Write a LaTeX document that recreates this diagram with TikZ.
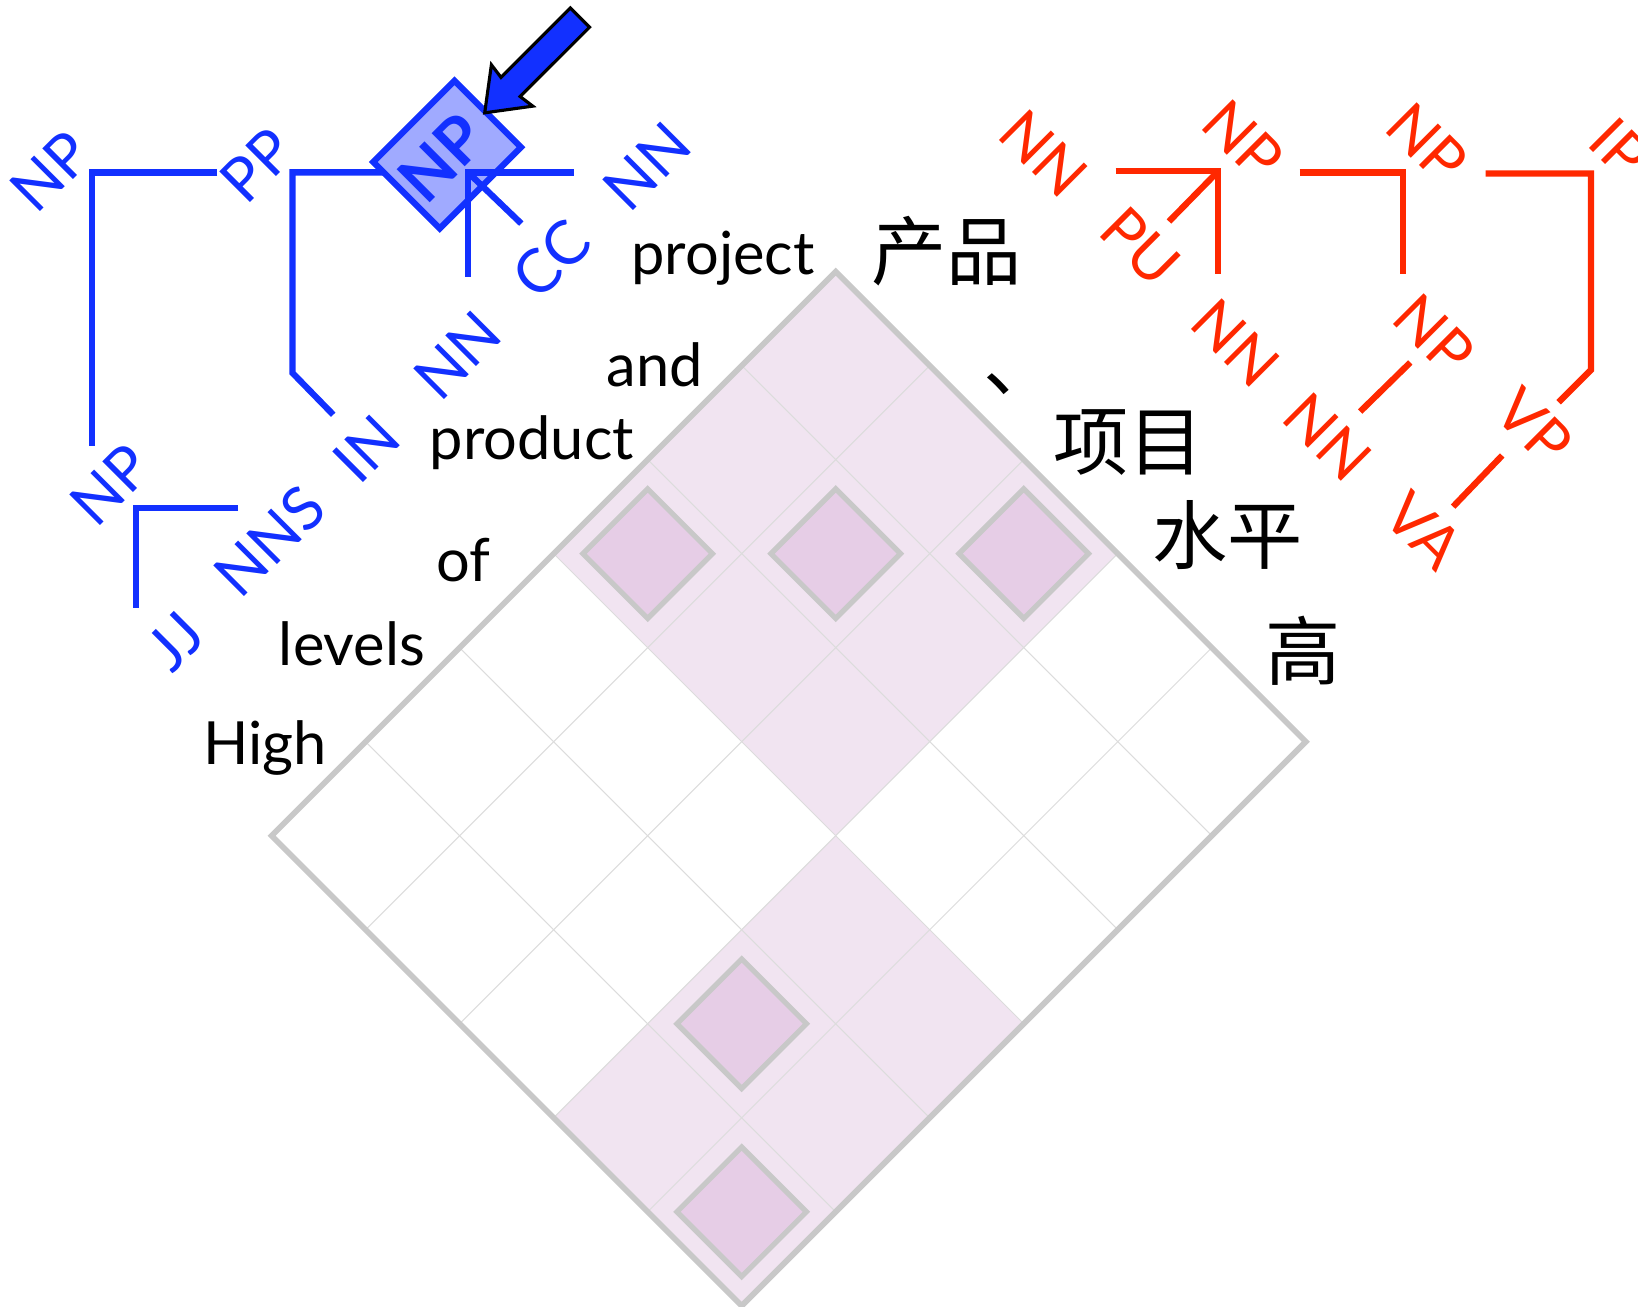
\documentclass[tikz,border=0pt]{standalone}
\usepackage{fontspec}
\setmainfont{Lato}
\newfontfamily\cjk{Noto Sans CJK SC}
\definecolor{tbl}{RGB}{18,48,255}
\definecolor{tred}{RGB}{255,40,0}
\definecolor{gbord}{RGB}{200,200,200}
\definecolor{ggrid}{RGB}{220,220,220}
\definecolor{pinkl}{RGB}{241,228,241}
\definecolor{pinkd}{RGB}{230,205,230}
\definecolor{boxfill}{RGB}{160,170,255}
\begin{document}
\begin{tikzpicture}[x=1pt,y=-1pt,
  blab/.style={text=tbl, rotate=45, inner sep=0pt, font=\fontsize{58}{62}\selectfont},
  rlab/.style={text=tred, rotate=-45, inner sep=0pt, font=\fontsize{58}{62}\selectfont},
  bline/.style={draw=tbl, line width=6pt, line join=miter},
  rline/.style={draw=tred, line width=6pt, line join=miter},
  word/.style={anchor=base east, inner sep=0pt, font=\fontsize{57}{62}\selectfont},
  zh/.style={inner sep=0pt, font=\cjk\fontsize{72}{78}\selectfont},
  gridln/.style={draw=ggrid, line width=1pt},
  outer/.style={draw=gbord, line width=5.5pt, line join=miter},
  alnbox/.style={fill=pinkd, draw=gbord, line width=5pt, line join=miter},
  npbox/.style={draw=tbl, fill=boxfill, line width=6pt, rotate=45, minimum width=110pt, minimum height=90pt, inner sep=0pt},
  bigarrow/.style={fill=tbl, draw=black, line width=3pt, line join=miter}
]
\useasboundingbox (0,0) rectangle (1568,1251);
\clip (0,0) rectangle (1568,1251);

% ---- alignment matrix ----
\fill[pinkl] (800,260) -- (1070,530) -- (800,800) -- (530,530) -- cycle;
\fill[pinkl] (800,800) -- (980,980) -- (710,1250) -- (530,1070) -- cycle;
\foreach \i in {1,...,5}
  \draw[gridln] ({800-90*\i},{260+90*\i}) -- ({1250-90*\i},{710+90*\i});
\foreach \j in {1,...,4}
  \draw[gridln] ({800+90*\j},{260+90*\j}) -- ({260+90*\j},{800+90*\j});
\foreach \cx/\cy in {620/530, 800/530, 980/530, 710/980, 710/1160}
  \draw[alnbox] ({\cx-62},\cy) -- (\cx,{\cy-62}) -- ({\cx+62},\cy) -- (\cx,{\cy+62}) -- cycle;
\draw[outer] (800,260) -- (1250,710) -- (710,1250) -- (260,800) -- cycle;

% ---- English words ----
\node[word] (w1) at (780,263) {project};
\node[word] (w2) at (673,370) {and};
\node[word] (w3) at (607,440) {product};
\node[word] (w4) at (470,557) {of};
\node[word] (w5) at (407,637) {levels};
\node[word] (w6) at (313,732) {High};

% ---- Chinese words ----
\node[zh] (z1) at (906,240) {产品};
\node[zh] (z2) at (977,368) {、};
\node[zh] (z3) at (1080,424) {项目};
\node[zh] (z4) at (1175,512) {水平};
\node[zh] (z5) at (1247,623) {高};

% ---- blue (English) tree ----
\coordinate (bA) at (88,165);  \coordinate (bAr) at (208,165); \coordinate (bAd) at (88,427);
\coordinate (bB) at (280,165); \coordinate (bBr) at (370,165); \coordinate (bBd) at (280,357); \coordinate (bBe) at (319,397);
\coordinate (bC) at (448,165); \coordinate (bCr) at (549,165); \coordinate (bCd) at (448,265); \coordinate (bCe) at (499,214);
\coordinate (bD) at (130,486); \coordinate (bDr) at (228,486); \coordinate (bDd) at (130,582);

\draw[bline] (bAr) -- (bA) -- (bAd);
\draw[bline] (bBr) -- (bB) -- (bBd) -- (bBe);
\node[npbox] (npb) at (428,148) {};
\draw[bline] (bCr) -- (bC) -- (bCd);
\draw[bline] (bC) -- (bCe);
\draw[bline] (bDr) -- (bD) -- (bDd);

\node[blab, font=\fontsize{62}{66}\selectfont\bfseries] (bNPx) at (423,151) {NP};
\node[blab] (bNP1) at (48,164) {NP};
\node[blab] (bPP) at (246,158) {PP};
\node[blab] (bNN1) at (619,159) {NN};
\node[blab] (bCC) at (528,248) {CC};
\node[blab] (bNN2) at (438,340) {NN};
\node[blab] (bIN) at (351,430) {IN};
\node[blab] (bNP3) at (106,464) {NP};
\node[blab] (bNNS) at (258,518) {NNS};
\node[blab] (bJJ) at (168,614) {JJ};

% pointer arrow
\coordinate (tip) at (464,108);
\draw[bigarrow] (tip) -- (510,101.6) -- (497.9,92.4) -- (564.4,26) -- (546,7.6) -- (479.6,74.1) -- (470.4,62) -- cycle;

% ---- red (Chinese) tree ----
\coordinate (rA) at (1166,164); \coordinate (rAl) at (1068,164); \coordinate (rAd) at (1166,262); \coordinate (rAe) at (1119,212);
\coordinate (rB) at (1343,165); \coordinate (rBl) at (1244,165); \coordinate (rBd) at (1343,262);
\coordinate (rC1) at (1350,347); \coordinate (rC2) at (1302,394);
\coordinate (rD) at (1523,166); \coordinate (rDl) at (1422,166); \coordinate (rDd) at (1523,354); \coordinate (rDe) at (1492,385);
\coordinate (rE1) at (1438,436); \coordinate (rE2) at (1391,485);

\draw[rline] (rAl) -- (rA) -- (rAd);
\draw[rline] (rA) -- (rAe);
\draw[rline] (rBl) -- (rB) -- (rBd);
\draw[rline] (rC1) -- (rC2);
\draw[rline] (rDl) -- (rD) -- (rDd) -- (rDe);
\draw[rline] (rE1) -- (rE2);

\node[rlab] (rNN1) at (999,147) {NN};
\node[rlab] (rNP1) at (1190,134) {NP};
\node[rlab] (rPU) at (1092,236) {PU};
\node[rlab] (rNN2) at (1183,328) {NN};
\node[rlab] (rNP2) at (1366,137) {NP};
\node[rlab] (rNP3) at (1373,320) {NP};
\node[rlab] (rNN3) at (1271,418) {NN};
\node[rlab] (rIP) at (1550,142) {IP};
\node[rlab] (rVP) at (1469,408) {VP};
\node[rlab] (rVA) at (1363,508) {VA};
\end{tikzpicture}
\end{document}
